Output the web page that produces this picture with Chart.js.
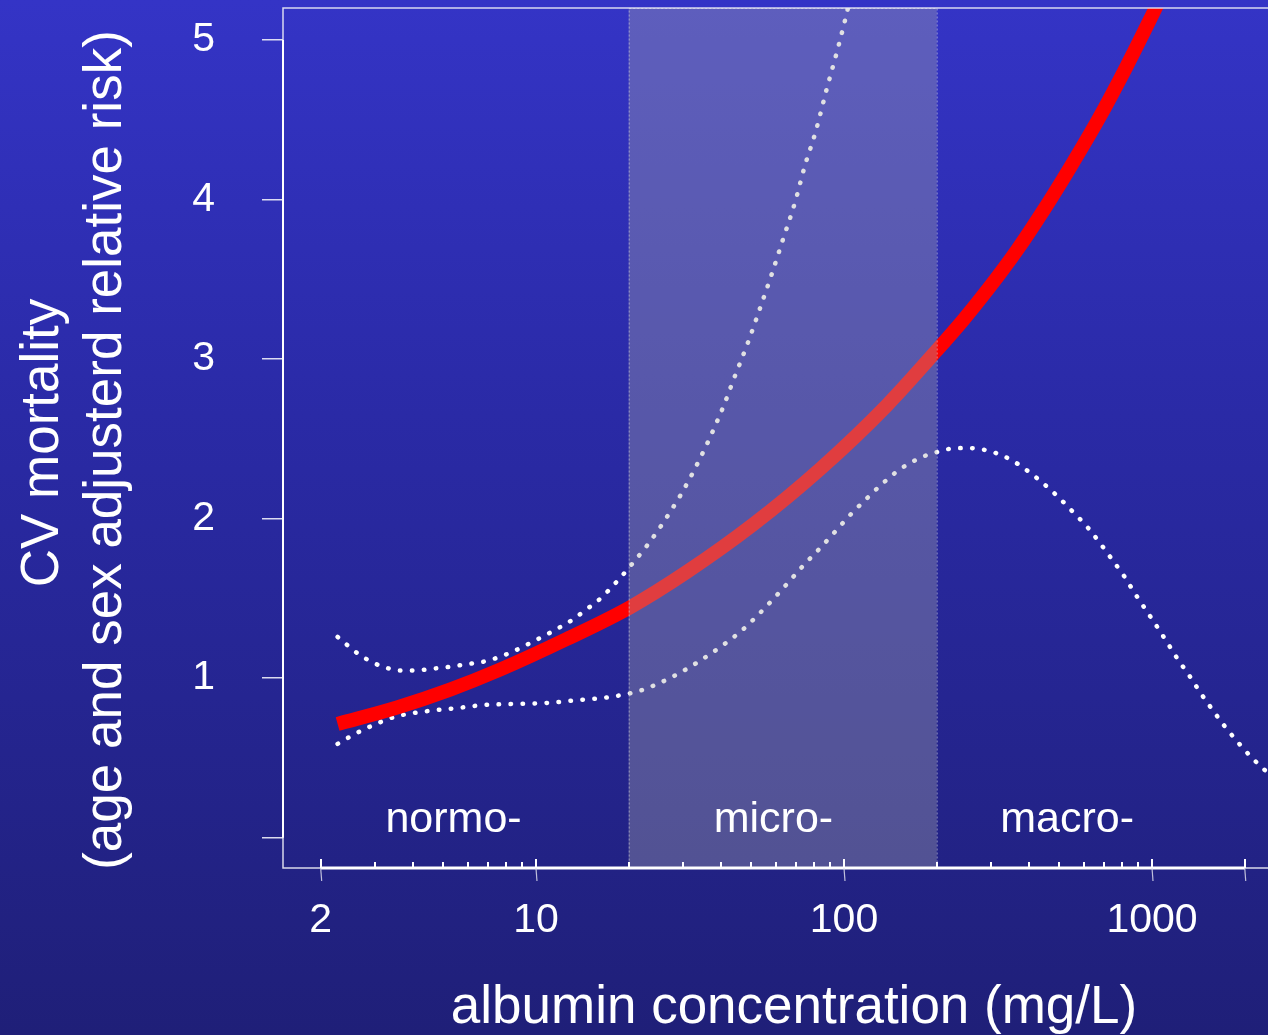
<!DOCTYPE html>
<html lang="en">
<head>
<meta charset="UTF-8">
<title>CV mortality and albumin concentration</title>
<script src="https://cdn.jsdelivr.net/npm/chart.js"></script>
<style>
  html, body { margin: 0; padding: 0; }
  body {
    width: 1268px; height: 1035px; overflow: hidden;
    background: linear-gradient(to bottom, #3434c6 0%, #2a2aa6 40%, #1f1f78 100%);
  }
  canvas { display: block; }
</style>
</head>
<body>
<canvas id="chart" width="1268" height="1035"></canvas>
<script>
// fitted relative risk (red)
const albuminFit = [2.27, 3.54, 5.26, 7.64, 12.58, 20.2, 30.8, 50.8, 83.6, 137.8, 200, 243.9, 294.1, 363.8, 443.7, 541.9, 669.9, 828.4, 1000, 1188];
const riskFit = [0.7125, 0.816, 0.928, 1.053, 1.245, 1.444, 1.664, 1.964, 2.31, 2.71, 3.054, 3.245, 3.44, 3.68, 3.93, 4.20, 4.503, 4.837, 5.153, 5.45];

// upper confidence limit
const albuminUpper = [2.27, 2.65, 2.95, 3.24, 3.61, 4.06, 4.55, 5.06, 5.59, 6.21, 6.93, 8.22, 9.51, 11.19, 13.06, 14.94, 15.85, 18.74, 20.7, 22.9, 25.1, 27.4, 29.7, 31.9, 34.1, 36.4, 38.5, 40.8, 44.0, 48.7, 53.4, 58.4, 63.7, 69.3, 74.5, 80.9, 88.1, 94.7, 101.4, 105];
const riskUpper = [1.258, 1.152, 1.098, 1.067, 1.048, 1.048, 1.058, 1.067, 1.079, 1.092, 1.108, 1.158, 1.217, 1.288, 1.363, 1.446, 1.483, 1.627, 1.725, 1.829, 1.936, 2.048, 2.158, 2.267, 2.377, 2.492, 2.598, 2.713, 2.881, 3.10, 3.319, 3.538, 3.763, 3.98, 4.206, 4.425, 4.70, 4.92, 5.144, 5.27];

// lower confidence limit
const albuminLower = [2.27, 2.55, 2.84, 3.17, 3.53, 4.39, 5.46, 6.73, 8.44, 10.77, 13.48, 17.26, 21.8, 27.6, 33.9, 40.4, 46.8, 53.1, 59.6, 66.4, 73.8, 82.6, 92.9, 103.6, 117.3, 132.9, 151.3, 177.8, 198.2, 222.4, 252.3, 282, 316, 347.5, 378.2, 432.7, 493.9, 550.9, 618.4, 679.4, 745, 812.6, 878.8, 954.2, 1038, 1124, 1214, 1325, 1439, 1566, 1713, 1893, 2102, 2362];
const riskLower = [0.588, 0.644, 0.689, 0.729, 0.761, 0.792, 0.811, 0.831, 0.838, 0.844, 0.861, 0.881, 0.922, 1.006, 1.106, 1.206, 1.302, 1.404, 1.506, 1.606, 1.706, 1.804, 1.911, 2.013, 2.117, 2.217, 2.306, 2.383, 2.414, 2.438, 2.442, 2.433, 2.406, 2.369, 2.325, 2.238, 2.139, 2.046, 1.944, 1.844, 1.739, 1.638, 1.533, 1.429, 1.323, 1.219, 1.117, 1.013, 0.906, 0.806, 0.704, 0.602, 0.504, 0.411];

// axes
const xTicks = [2, 3, 4, 5, 6, 7, 8, 9, 10, 20, 30, 40, 50, 60, 70, 80, 90, 100, 200, 300, 400, 500, 600, 700, 800, 900, 1000, 2000];
const xLabeled = [2, 10, 100, 1000];
const xLongTicks = [2, 10, 100, 1000, 2000];
const yTicks = [0, 1, 2, 3, 4, 5];
const yTickLabels = ['', '1', '2', '3', '4', '5'];

// albuminuria classes
const classNames = ['normo-', 'micro-', 'macro-'];
const classCenters = [5.4, 59, 530];
const microBounds = [20, 200];

const FONT = '"Liberation Sans", Arial, Helvetica, sans-serif';

const decor = {
  id: 'decor',
  afterDatasetsDraw(chart) {
    const ctx = chart.ctx;
    const a = chart.chartArea;
    const xs = chart.scales.x;
    const ys = chart.scales.y;
    ctx.save();

    // microalbuminuria band, drawn over the curves
    const bx1 = xs.getPixelForValue(microBounds[0]);
    const bx2 = xs.getPixelForValue(microBounds[1]);
    ctx.fillStyle = 'rgba(170,170,175,0.36)';
    ctx.fillRect(bx1, a.top, bx2 - bx1, a.bottom - a.top);
    ctx.strokeStyle = 'rgba(215,215,225,0.55)';
    ctx.lineWidth = 1;
    ctx.setLineDash([2, 2]);
    ctx.strokeRect(bx1 + 0.5, a.top + 0.5, bx2 - bx1, a.bottom - a.top);
    ctx.setLineDash([]);

    // class labels
    ctx.fillStyle = '#ffffff';
    ctx.font = '43px ' + FONT;
    ctx.textAlign = 'center';
    ctx.textBaseline = 'alphabetic';
    classNames.forEach((t, i) => {
      ctx.fillText(t, xs.getPixelForValue(classCenters[i]), 832);
    });

    // plot frame (left, top, bottom)
    ctx.strokeStyle = 'rgba(235,235,245,0.9)';
    ctx.lineWidth = 1.5;
    ctx.beginPath();
    ctx.moveTo(a.right + 2, a.top);
    ctx.lineTo(a.left, a.top);
    ctx.lineTo(a.left, a.bottom);
    ctx.lineTo(a.right + 2, a.bottom);
    ctx.stroke();

    // y axis line 0..5
    ctx.strokeStyle = '#ffffff';
    ctx.lineWidth = 2;
    ctx.beginPath();
    ctx.moveTo(a.left, ys.getPixelForValue(0));
    ctx.lineTo(a.left, ys.getPixelForValue(5));
    ctx.stroke();

    // x axis line and ticks
    const yb = a.bottom;
    ctx.lineWidth = 3;
    ctx.beginPath();
    ctx.moveTo(xs.getPixelForValue(2), yb);
    ctx.lineTo(xs.getPixelForValue(2000), yb);
    ctx.stroke();
    ctx.lineWidth = 2;
    xTicks.forEach(v => {
      const px = Math.round(xs.getPixelForValue(v));
      const up = xLongTicks.includes(v) ? 9 : 6;
      ctx.beginPath();
      ctx.moveTo(px, yb);
      ctx.lineTo(px, yb - up);
      ctx.stroke();
    });
    ctx.strokeStyle = 'rgba(220,220,235,0.85)';
    ctx.lineWidth = 1.2;
    xLongTicks.forEach(v => {
      const px = xs.getPixelForValue(v);
      ctx.beginPath();
      ctx.moveTo(px, yb);
      ctx.lineTo(px + 1, yb + 13);
      ctx.stroke();
    });

    // axis titles
    ctx.fillStyle = '#ffffff';
    ctx.font = '53px ' + FONT;
    ctx.textAlign = 'center';
    ctx.textBaseline = 'alphabetic';
    ctx.fillText('albumin concentration (mg/L)', 794, 1023);

    ctx.save();
    ctx.translate(58, 443);
    ctx.rotate(-Math.PI / 2);
    ctx.fillText('CV mortality', 0, 0);
    ctx.restore();
    ctx.save();
    ctx.translate(121, 450);
    ctx.rotate(-Math.PI / 2);
    ctx.fillText('(age and sex adjusterd relative risk)', 0, 0);
    ctx.restore();

    ctx.restore();
  }
};

const toPoints = (xv, yv) => xv.map((x, i) => ({ x: x, y: yv[i] }));

new Chart(document.getElementById('chart'), {
  type: 'line',
  data: {
    datasets: [
      {
        label: 'relative risk',
        data: toPoints(albuminFit, riskFit),
        borderColor: '#ff0000',
        borderWidth: 14,
        borderCapStyle: 'butt',
        pointRadius: 0,
        cubicInterpolationMode: 'monotone',
        clip: 0
      },
      {
        label: 'upper limit',
        data: toPoints(albuminUpper, riskUpper),
        borderColor: '#ffffff',
        borderWidth: 4.5,
        borderCapStyle: 'round',
        borderDash: [0.5, 11.5],
        pointRadius: 0,
        cubicInterpolationMode: 'monotone',
        clip: 0
      },
      {
        label: 'lower limit',
        data: toPoints(albuminLower, riskLower),
        borderColor: '#ffffff',
        borderWidth: 4.5,
        borderCapStyle: 'round',
        borderDash: [0.5, 11.5],
        pointRadius: 0,
        cubicInterpolationMode: 'monotone',
        clip: 0
      }
    ]
  },
  options: {
    responsive: false,
    devicePixelRatio: 1,
    animation: false,
    events: [],
    layout: { padding: { top: 8, left: 0, right: 0, bottom: 0 } },
    plugins: { legend: { display: false }, tooltip: { enabled: false } },
    scales: {
      x: {
        type: 'logarithmic',
        min: 1.509,
        max: 2380,
        border: { display: false },
        grid: { display: false, drawTicks: false },
        afterBuildTicks: s => { s.ticks = xTicks.map(v => ({ value: v })); },
        afterFit: s => { s.height = 167; s.paddingLeft = 0; s.paddingRight = 0; },
        ticks: {
          autoSkip: false,
          maxRotation: 0,
          padding: 28,
          color: '#ffffff',
          font: { family: FONT, size: 41 },
          callback: v => xLabeled.includes(v) ? String(v) : ''
        }
      },
      y: {
        min: -0.19,
        max: 5.2,
        border: { display: false },
        grid: {
          display: true,
          drawOnChartArea: false,
          drawTicks: true,
          tickLength: 21,
          color: 'rgba(240,240,250,0.9)',
          lineWidth: 1.5
        },
        afterBuildTicks: s => { s.ticks = yTicks.map(v => ({ value: v })); },
        afterFit: s => { s.width = 283; s.paddingTop = 0; s.paddingBottom = 0; },
        ticks: {
          padding: 47,
          color: '#ffffff',
          font: { family: FONT, size: 41 },
          callback: (v, i) => yTickLabels[yTicks.indexOf(v)]
        }
      }
    }
  },
  plugins: [decor]
});
</script>
</body>
</html>
